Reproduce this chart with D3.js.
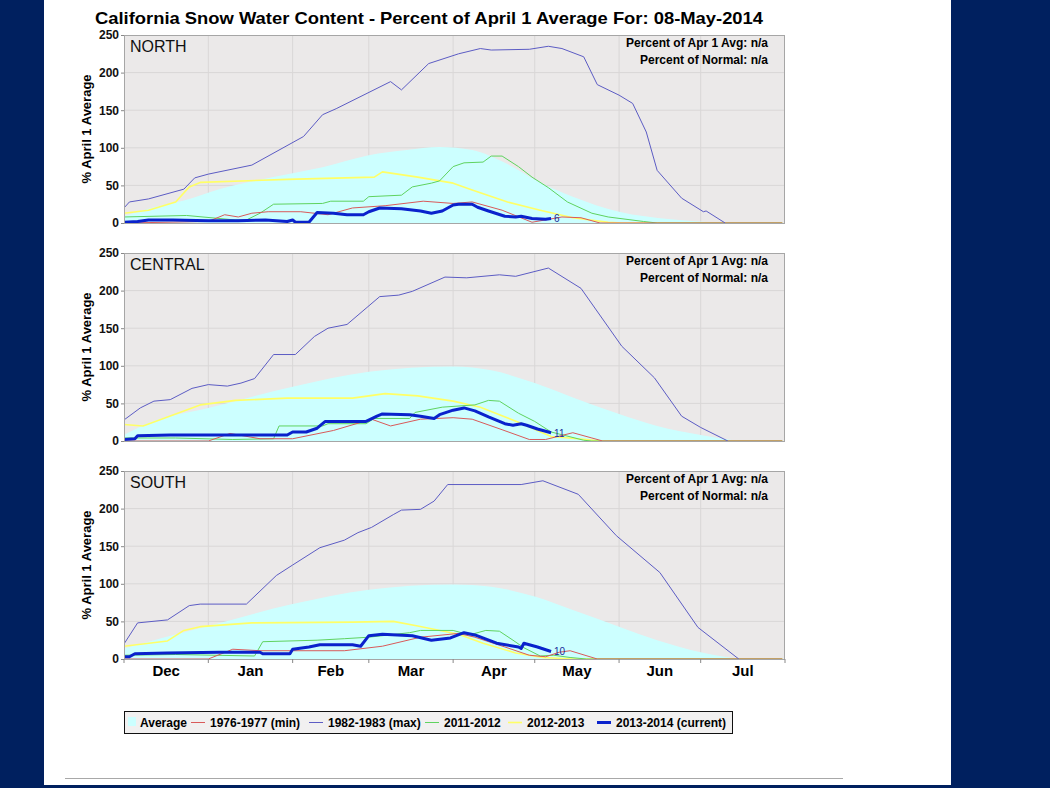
<!DOCTYPE html>
<meta charset="utf-8" />
<head>
  <script src="https://d3js.org/d3.v7.min.js"></script>
  <style>
    body { margin: 0; background: #00205f; }
    svg { display: block; }
    text { font-family: "Liberation Sans", Arial, sans-serif; }
  </style>
</head>
<body>
  <div id="chart"></div>
</body>
<script>
  // --- data (month-day, % of April 1 average) ---
  const regions = ["NORTH", "CENTRAL", "SOUTH"];
  const months = ["Dec", "Jan", "Feb", "Mar", "Apr", "May", "Jun", "Jul"];
  const yTicks = [0, 50, 100, 150, 200, 250];
  const seriesNames = ["Average", "1976-1977 (min)", "1982-1983 (max)", "2011-2012", "2012-2013", "2013-2014 (current)"];

  const northAvg = [["12-01",9],["12-11",20],["12-23",30],["01-05",45],["02-01",66],["02-12",74],["03-01",90],["03-15",97],["03-27",101],["04-08",97],["04-20",80],["05-03",54],["05-15",35],["06-01",15],["06-20",5],["07-10",0]];
  const northMin = [["12-01",0],["01-01",2],["01-07",11],["01-12",8],["01-17",13],["01-23",15],["02-04",15],["02-14",11],["02-23",20],["03-07",23],["03-21",29],["04-01",26],["04-08",28],["04-19",17],["04-30",1],["05-11",8],["05-18",7],["05-25",0],["07-31",0]];
  const northMax = [["12-01",20],["12-03",28],["12-10",32],["12-23",45],["12-27",60],["01-01",65],["01-17",77],["02-05",115],["02-12",144],["02-17",152],["03-09",188],["03-13",177],["03-23",212],["04-03",225],["04-11",232],["04-15",230],["04-29",231],["05-06",235],["05-11",232],["05-19",221],["05-24",184],["06-01",170],["06-06",159],["06-11",121],["06-15",70],["06-24",33],["07-02",15],["07-03",16],["07-10",0]];
  const north2012 = [["12-01",8],["12-24",10],["01-11",4],["01-15",4],["01-20",13],["01-25",25],["02-12",26],["02-15",29],["02-27",29],["03-01",35],["03-13",37],["03-17",48],["03-24",53],["03-27",56],["04-01",75],["04-05",80],["04-12",81],["04-15",89],["04-19",89],["04-25",75],["04-30",61],["05-06",47],["05-13",28],["05-22",13],["05-28",8],["06-10",2],["06-15",0],["07-31",0]];
  const north2013 = [["12-01",13],["12-10",17],["12-20",28],["12-25",48],["12-29",54],["01-30",58],["03-03",61],["03-06",68],["03-19",61],["04-01",53],["04-08",44],["04-21",28],["05-03",17],["05-15",7],["05-28",1],["06-02",0],["07-31",0]];
  const north2014 = [["12-01",1],["12-06",2],["12-10",4],["12-19",4],["01-01",3],["01-12",3],["01-22",4],["01-30",2],["02-01",4],["02-02",1],["02-07",1],["02-10",14],["02-16",13],["02-21",11],["02-27",11],["03-01",15],["03-05",20],["03-13",19],["03-20",16],["03-24",13],["03-28",16],["04-01",24],["04-03",25],["04-08",25],["04-10",21],["04-14",16],["04-20",9],["04-24",8],["04-26",9],["04-30",6],["05-05",5],["05-07",6]];

  const centralAvg = [["12-01",8],["12-10",24],["01-01",44],["02-01",72],["03-01",92],["04-01",99],["04-15",94],["05-01",77],["05-15",58],["06-01",36],["06-15",20],["07-01",8],["07-15",0]];
  const centralMin = [["12-01",0],["01-01",0],["01-09",10],["01-20",3],["02-01",3],["02-16",14],["03-02",29],["03-09",20],["03-20",29],["04-01",31],["04-08",29],["04-19",15],["04-29",2],["05-05",2],["05-15",11],["05-22",4],["05-26",0],["07-31",0]];
  const centralMax = [["12-01",28],["12-07",44],["12-12",53],["12-18",55],["12-26",70],["01-01",75],["01-08",73],["01-13",77],["01-18",83],["01-25",115],["02-02",115],["02-09",139],["02-14",150],["02-21",155],["03-05",192],["03-12",194],["03-17",199],["03-29",218],["04-06",217],["04-18",221],["04-24",219],["05-06",230],["05-18",203],["06-02",126],["06-14",84],["06-24",33],["07-01",18],["07-11",0]];
  const central2012 = [["12-01",4],["12-20",4],["01-10",2],["01-25",3],["01-27",20],["02-12",20],["02-14",23],["02-28",23],["03-03",30],["03-16",30],["03-18",38],["03-28",45],["04-09",48],["04-14",54],["04-18",53],["04-25",37],["05-01",26],["05-07",12],["05-19",1],["05-22",0],["07-31",0]];
  const central2013 = [["12-01",22],["12-08",20],["12-17",32],["12-29",48],["01-11",54],["01-30",57],["02-23",57],["03-07",63],["03-19",60],["04-01",53],["04-11",45],["04-25",25],["05-07",6],["05-20",2],["05-25",0],["07-31",0]];
  const central2014 = [["12-01",2],["12-05",3],["12-06",7],["12-18",8],["01-30",8],["02-01",12],["02-06",12],["02-10",17],["02-13",26],["02-28",26],["03-04",33],["03-06",36],["03-16",35],["03-20",33],["03-25",30],["03-27",35],["04-01",41],["04-05",44],["04-09",40],["04-14",32],["04-20",23],["04-23",21],["04-26",23],["04-28",21],["05-02",16],["05-07",11]];

  const southAvg = [["12-01",14],["12-15",28],["01-01",44],["02-01",73],["03-01",92],["04-01",99],["04-15",96],["05-01",83],["05-15",65],["06-01",43],["06-15",25],["07-01",9],["07-15",0]];
  const southMin = [["12-01",0],["01-01",0],["01-10",13],["01-20",11],["02-20",11],["03-06",17],["03-20",29],["04-03",34],["04-09",29],["04-20",16],["04-29",5],["05-05",3],["05-10",9],["05-14",11],["05-24",0],["07-31",0]];
  const southMax = [["12-01",20],["12-06",48],["12-17",52],["12-25",71],["12-29",73],["01-15",73],["01-26",111],["02-01",125],["02-11",148],["02-20",158],["02-25",168],["03-02",175],["03-10",192],["03-13",198],["03-20",199],["03-25",210],["03-30",232],["04-26",232],["05-04",237],["05-17",219],["05-31",164],["06-16",115],["06-30",42],["07-15",0]];
  const south2012 = [["12-01",5],["12-20",6],["01-18",4],["01-21",23],["02-10",25],["02-20",27],["03-01",29],["03-16",35],["03-20",38],["04-01",38],["04-07",32],["04-13",38],["04-18",37],["04-23",25],["04-27",15],["05-03",4],["05-08",5],["05-14",2],["05-20",0],["07-31",0]];
  const south2013 = [["12-01",17],["12-17",24],["12-23",38],["12-29",43],["01-17",48],["02-23",49],["03-10",50],["03-19",44],["04-03",33],["04-12",21],["04-24",8],["05-04",2],["05-15",0],["07-31",0]];
  const south2014 = [["12-01",3],["12-03",3],["12-05",7],["12-17",8],["01-05",9],["01-20",9],["01-21",7],["01-31",7],["02-01",13],["02-07",16],["02-11",19],["02-23",19],["02-26",17],["03-01",31],["03-06",33],["03-17",31],["03-24",25],["03-31",28],["04-05",35],["04-09",32],["04-17",21],["04-25",16],["04-26",14],["04-27",21],["05-02",16],["05-07",10]];

  const regionData = {
    NORTH: [northAvg, northMin, northMax, north2012, north2013, north2014],
    CENTRAL: [centralAvg, centralMin, centralMax, central2012, central2013, central2014],
    SOUTH: [southAvg, southMin, southMax, south2012, south2013, south2014]
  };

  // --- style ---
  const colors = ["#ccffff", "#d95a5a", "#5c5cc4", "#5fd35f", "#ffff66", "#0a22cc"];
  const widths = [0, 1, 1, 1, 1.6, 3];

  const toDate = (md) => {
    const [m, d] = md.split("-").map(Number);
    return new Date(m === 12 ? 2013 : 2014, m - 1, d);
  };

  const W = 1050, H = 788;
  const svg = d3.select("#chart").append("svg").attr("width", W).attr("height", H);

  svg.append("rect").attr("x", 44).attr("y", 0).attr("width", 907).attr("height", 785).attr("fill", "#fff");
  svg.append("line").attr("x1", 65).attr("x2", 843).attr("y1", 778.5).attr("y2", 778.5).attr("stroke", "#a8a8a8");

  svg.append("text")
    .attr("x", 429).attr("y", 24)
    .attr("text-anchor", "middle")
    .attr("textLength", 668).attr("lengthAdjust", "spacingAndGlyphs")
    .style("font-size", "17px").style("font-weight", "bold")
    .text("California Snow Water Content - Percent of April 1 Average For: 08-May-2014");

  const x = d3.scaleTime().domain([new Date(2013, 11, 1), new Date(2014, 7, 1)]).range([124, 785]);
  const monthStarts = d3.timeMonth.range(new Date(2013, 11, 1), new Date(2014, 7, 2));

  const panelTops = [35, 253, 471];
  const panelH = 188;

  regions.forEach((name, i) => {
    const top = panelTops[i];
    const y = d3.scaleLinear().domain([0, 250]).range([top + panelH, top]);
    const g = svg.append("g");
    const clipId = "clip" + i;

    g.append("clipPath").attr("id", clipId)
      .append("rect").attr("x", 124).attr("y", top).attr("width", 661).attr("height", panelH);

    g.append("rect").attr("x", 124).attr("y", top).attr("width", 661).attr("height", panelH)
      .attr("fill", "#ebe9e9");

    // grid
    g.selectAll(".vg").data(monthStarts.slice(1, -1)).join("line")
      .attr("x1", (d) => x(d)).attr("x2", (d) => x(d))
      .attr("y1", top).attr("y2", top + panelH)
      .attr("stroke", "#d9d7d7").attr("stroke-width", 1);
    g.selectAll(".hg").data(yTicks.slice(1, -1)).join("line")
      .attr("x1", 124).attr("x2", 785)
      .attr("y1", (d) => y(d)).attr("y2", (d) => y(d))
      .attr("stroke", "#d9d7d7").attr("stroke-width", 1);

    const series = regionData[name];
    const plot = g.append("g").attr("clip-path", "url(#" + clipId + ")");

    const area = d3.area()
      .x((d) => x(toDate(d[0])))
      .y0(y(0))
      .y1((d) => y(d[1]))
      .curve(d3.curveMonotoneX);
    plot.append("path").datum(series[0]).attr("d", area).attr("fill", colors[0]);

    const line = d3.line()
      .x((d) => x(toDate(d[0])))
      .y((d) => y(d[1]));
    [4, 3, 1, 2, 5].forEach((k) => {
      plot.append("path").datum(series[k]).attr("d", line)
        .attr("fill", "none").attr("stroke", colors[k])
        .attr("stroke-width", widths[k]).attr("stroke-linejoin", "round");
    });

    const last = series[5][series[5].length - 1];
    g.append("text")
      .attr("x", x(toDate(last[0])) + 3).attr("y", y(last[1]) + 4)
      .style("font-size", "10px").attr("fill", "#1a2a9a")
      .text(last[1]);

    g.append("rect").attr("x", 124.5).attr("y", top + 0.5).attr("width", 660).attr("height", panelH)
      .attr("fill", "none").attr("stroke", "#a6a6a6");

    // y axis
    const yAxis = g.append("g").attr("transform", "translate(124,0)")
      .call(d3.axisLeft(y).tickValues(yTicks).tickSize(3).tickPadding(2));
    yAxis.select(".domain").remove();
    yAxis.selectAll("line").attr("stroke", "#888");
    yAxis.selectAll("text")
      .style("font-size", "12px").style("font-weight", "bold").attr("fill", "#111");

    g.append("text")
      .attr("transform", "translate(91," + (top + panelH / 2) + ") rotate(-90)")
      .attr("text-anchor", "middle")
      .style("font-size", "13px").style("font-weight", "bold")
      .text("% April 1 Average");

    g.append("text").attr("x", 130).attr("y", top + 17)
      .style("font-size", "16px").attr("fill", "#111")
      .text(name);

    g.append("text").attr("x", 768).attr("y", top + 12)
      .attr("text-anchor", "end").style("font-size", "12px").style("font-weight", "bold")
      .text("Percent of Apr 1 Avg: n/a");
    g.append("text").attr("x", 768).attr("y", top + 29)
      .attr("text-anchor", "end").style("font-size", "12px").style("font-weight", "bold")
      .text("Percent of Normal: n/a");

    if (i === 2) {
      g.selectAll(".xt").data(monthStarts).join("line")
        .attr("x1", (d) => x(d)).attr("x2", (d) => x(d))
        .attr("y1", top + panelH).attr("y2", top + panelH + 4)
        .attr("stroke", "#888");
      g.selectAll(".xl").data(months).join("text")
        .attr("x", (d, j) => (x(monthStarts[j]) + x(monthStarts[j + 1])) / 2)
        .attr("y", top + panelH + 17)
        .attr("text-anchor", "middle")
        .style("font-size", "15px").style("font-weight", "bold")
        .text((d) => d);
    }
  });

  // legend
  const lg = svg.append("g");
  lg.append("rect").attr("x", 124.5).attr("y", 711.5).attr("width", 608).attr("height", 22)
    .attr("fill", "#f1f0f0").attr("stroke", "#111");
  const legendX = [128, 191, 309, 425, 508, 597];
  seriesNames.forEach((s, k) => {
    const lx = legendX[k];
    if (k === 0) {
      lg.append("rect").attr("x", lx).attr("y", 717).attr("width", 8).attr("height", 9).attr("fill", colors[0]);
    } else {
      lg.append("line").attr("x1", lx).attr("x2", lx + 14).attr("y1", 722.5).attr("y2", 722.5)
        .attr("stroke", colors[k]).attr("stroke-width", Math.max(1, widths[k]));
    }
    lg.append("text")
      .attr("x", lx + (k === 0 ? 12 : 19)).attr("y", 727)
      .style("font-size", "12px").style("font-weight", "bold")
      .text(s);
  });
</script>
